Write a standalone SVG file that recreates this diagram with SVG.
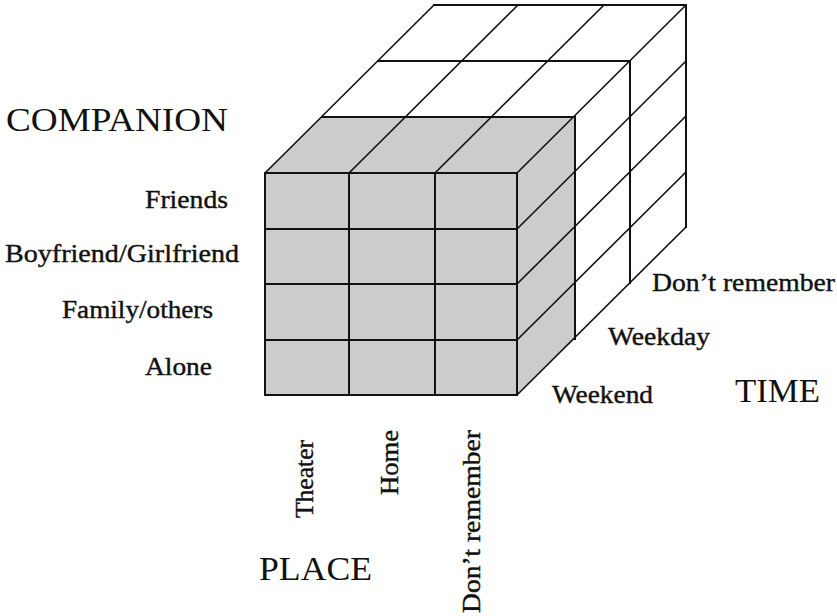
<svg xmlns="http://www.w3.org/2000/svg" width="837" height="616" viewBox="0 0 837 616">
<style>
.g{fill:#cccccc;stroke:none}
.e{stroke:#111;stroke-width:2;fill:none;stroke-linecap:square}
.d{stroke:#111;stroke-width:1.6;fill:none}
text{font-family:"Liberation Serif","Times New Roman",serif;fill:#111}
.t{font-size:34px}
.l{font-size:25px;stroke:#111;stroke-width:0.4}
</style>
<rect width="837" height="616" fill="#fff"/>
<g id="cube">
<polygon class="g" points="265,173 322,117 575,117 575,339 517,395 265,395"/>
<g id="front-grid">
<path class="e" d="M265,173H517M265,229H517M265,284H517M265,340H517M265,395H517"/>
<path class="e" d="M265,173V395M349,173V395M435,173V395M517,173V395"/>
</g>
<g id="top-grid">
<path class="e" d="M322,117H575M378,61H630M434,5H686"/>
<path class="d" d="M265,173L434,5M349,173L518,5M435,173L604,5M517,173L686,5"/>
</g>
<g id="side-grid">
<path class="e" d="M575,117V339M630,61V283M686,5V227"/>
<path class="d" d="M517,229L686,61M517,284L686,116M517,340L686,172M517,395L686,227"/>
</g>
</g>
<g id="companion-axis">
<text class="t" x="6" y="131" textLength="222" lengthAdjust="spacingAndGlyphs">COMPANION</text>
<text class="l" x="145" y="208" textLength="83" lengthAdjust="spacingAndGlyphs">Friends</text>
<text class="l" x="5" y="262" textLength="234" lengthAdjust="spacingAndGlyphs">Boyfriend/Girlfriend</text>
<text class="l" x="62" y="318" textLength="151" lengthAdjust="spacingAndGlyphs">Family/others</text>
<text class="l" x="145" y="375" textLength="67" lengthAdjust="spacingAndGlyphs">Alone</text>
</g>
<g id="place-axis">
<text class="l" transform="translate(313,518) rotate(-90)" textLength="78" lengthAdjust="spacingAndGlyphs">Theater</text>
<text class="l" transform="translate(398,495) rotate(-90)" textLength="65" lengthAdjust="spacingAndGlyphs">Home</text>
<text class="l" transform="translate(480,613) rotate(-90)" textLength="183" lengthAdjust="spacingAndGlyphs">Don’t remember</text>
<text class="t" x="259" y="580" textLength="113" lengthAdjust="spacingAndGlyphs">PLACE</text>
</g>
<g id="time-axis">
<text class="l" x="652" y="291" textLength="183" lengthAdjust="spacingAndGlyphs">Don’t remember</text>
<text class="l" x="608" y="345" textLength="102" lengthAdjust="spacingAndGlyphs">Weekday</text>
<text class="l" x="552" y="403" textLength="101" lengthAdjust="spacingAndGlyphs">Weekend</text>
<text class="t" x="735" y="402" textLength="85" lengthAdjust="spacingAndGlyphs">TIME</text>
</g>
</svg>
